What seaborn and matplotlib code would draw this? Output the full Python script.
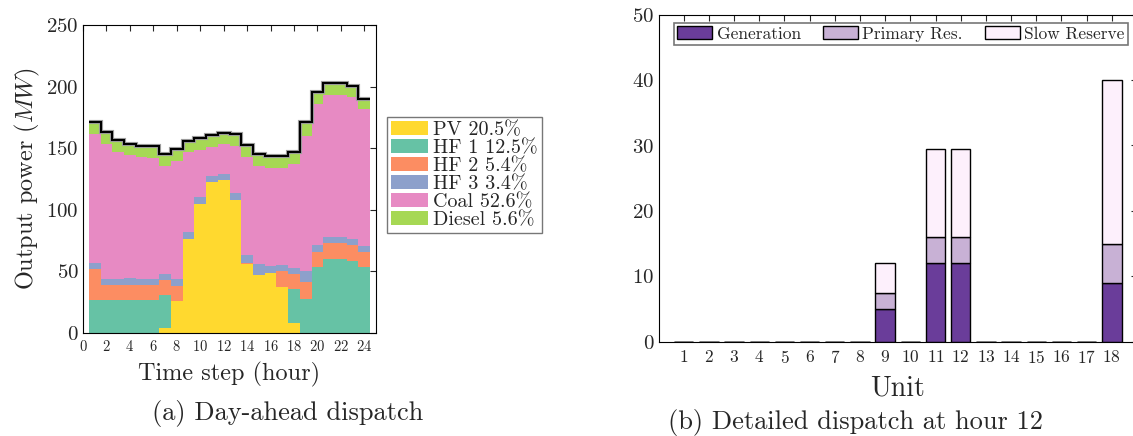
import matplotlib
matplotlib.use('Agg')
import matplotlib.pyplot as plt
from matplotlib.patches import Patch
import seaborn as sns
import pandas as pd
import numpy as np

# ---- (a) day-ahead dispatch, MW per hour ----
hours = [1, 2, 3, 4, 5, 6, 7, 8, 9, 10, 11, 12, 13, 14, 15, 16, 17, 18, 19, 20, 21, 22, 23, 24]
pv = [0, 0, 0, 0, 0, 0, 4, 26, 76.3, 104.7, 122.4, 124.2, 108, 56, 47, 48.7, 37.3, 8.1, 0, 0, 0, 0, 0, 0]
hf1 = [26.8, 26.8, 26.8, 26.8, 26.8, 26.8, 26.8, 0, 0, 0, 0, 0, 0, 0, 0, 0, 0, 27.6, 27.6, 53.6, 60.1, 60.1, 58.4, 53.6]
hf2 = [25.1, 12.2, 12.2, 12.2, 12.2, 12.2, 12.2, 12.4, 0, 0, 0, 0, 0, 0.5, 0, 0, 13, 12.2, 13.8, 12.1, 12.9, 12.9, 13, 12.1]
hf3 = [4.6, 4.8, 4.8, 5.6, 4.8, 4.8, 4.9, 5.4, 5.7, 5.7, 5, 4.8, 5.6, 6.5, 9, 5.7, 4.9, 4.9, 8.9, 5.7, 4.9, 4.9, 4.9, 4.9]
coal = [105, 109.6, 103.1, 99.9, 98.8, 98.2, 87.9, 95.8, 65.2, 38.1, 23.8, 24.4, 38.2, 79.5, 79.8, 79.8, 79, 84.4, 109.9, 114.5, 115.3, 115.3, 115, 111]
diesel = [9.5, 9.6, 9.8, 8.9, 9.4, 10, 9.2, 10, 8.8, 10, 9.2, 9.2, 9.7, 10, 9.5, 9.8, 9.5, 9.8, 11.1, 9.7, 9.5, 10, 9.5, 8.6]
sources = ['PV', 'HF 1', 'HF 2', 'HF 3', 'Coal', 'Diesel']
shares = ['20.5%', '12.5%', '5.4%', '3.4%', '52.6%', '5.6%']

# ---- (b) detailed dispatch at hour 12, MW per unit ----
units = [1, 2, 3, 4, 5, 6, 7, 8, 9, 10, 11, 12, 13, 14, 15, 16, 17, 18]
generation = [0, 0, 0, 0, 0, 0, 0, 0, 5, 0, 12, 12, 0, 0, 0, 0, 0, 9]
primary_res = [0, 0, 0, 0, 0, 0, 0, 0, 2.5, 0, 4, 4, 0, 0, 0, 0, 0, 6]
slow_res = [0, 0, 0, 0, 0, 0, 0, 0, 4.5, 0, 13.5, 13.5, 0, 0, 0, 0, 0, 25]
kinds = ['Generation', 'Primary Res.', 'Slow Reserve']

sns.set_theme(style='white')
plt.rcParams['font.family'] = ['cmr10', 'DejaVu Serif']
plt.rcParams['mathtext.fontset'] = 'cm'
plt.rcParams['axes.formatter.use_mathtext'] = True
plt.rcParams['axes.unicode_minus'] = False

set2 = sns.color_palette('Set2')
pal_a = dict(zip(sources, [set2[5], set2[0], set2[1], set2[2], set2[3], set2[4]]))
pal_b = dict(zip(kinds, ['#6a3d9a', '#c8b1d5', '#fdf0fc']))

fig = plt.figure(figsize=(11.33, 4.36), dpi=100)
ax1 = fig.add_axes([83 / 1133, 103 / 436, 293 / 1133, 308 / 436])
ax2 = fig.add_axes([658.5 / 1133, 94.3 / 436, 478.5 / 1133, 327 / 436])

# left: stacked step areas
dispatch = pd.DataFrame(dict(zip(sources, [pv, hf1, hf2, hf3, coal, diesel])))
dispatch['hour'] = hours
long_a = dispatch.melt(id_vars='hour', var_name='source', value_name='power')
sns.histplot(data=long_a, x='hour', weights='power', hue='source',
             hue_order=sources[::-1], palette=pal_a, multiple='stack',
             discrete=True, element='step', alpha=1, linewidth=0,
             legend=False, ax=ax1)
total = dispatch[sources].sum(axis=1).values
edges = np.arange(0.5, 25, 1)
ax1.stairs(total, edges, baseline=None, color='#a0a0a0', lw=3.0)
ax1.stairs(total, edges, baseline=None, color='black', lw=1.5)

ax1.set_xlim(0, 25)
ax1.set_ylim(0, 250)
ax1.set_xticks(range(0, 25, 2))
ax1.set_yticks(range(0, 251, 50))
ax1.tick_params(axis='x', labelsize=10.5, direction='in', top=True, length=4, width=0.8, pad=4)
ax1.tick_params(axis='y', labelsize=15, direction='in', right=True, length=4, width=0.8, pad=3)
ax1.set_xlabel('Time step (hour)', fontsize=17.5, labelpad=6)
ax1.set_ylabel('Output power ($MW$)', fontsize=17.5, labelpad=3)
for s in ax1.spines.values():
    s.set_color('black')
    s.set_linewidth(0.8)

handles_a = [Patch(facecolor=pal_a[s], edgecolor='none') for s in sources]
labels_a = [f'{s} {p}' for s, p in zip(sources, shares)]
leg1 = ax1.legend(handles_a, labels_a, loc='center left',
                  bbox_to_anchor=(387 / 1133, 1 - 175 / 436), bbox_transform=fig.transFigure,
                  fontsize=14.5, frameon=True, fancybox=False, edgecolor='#555555',
                  labelspacing=0.0, handlelength=1.85, handleheight=0.7,
                  handletextpad=0.25, borderpad=0.2, borderaxespad=0)
leg1.get_frame().set_linewidth(1.0)

# right: stacked bars per unit
reserve = pd.DataFrame(dict(zip(kinds, [generation, primary_res, slow_res])))
reserve['unit'] = units
long_b = reserve.melt(id_vars='unit', var_name='kind', value_name='mw')
sns.histplot(data=long_b, x='unit', weights='mw', hue='kind',
             hue_order=kinds[::-1], palette=pal_b, multiple='stack',
             discrete=True, shrink=0.77, alpha=1, edgecolor='black',
             linewidth=1.0, legend=False, ax=ax2)
ax2.set_xlim(0, 19)
ax2.set_ylim(0, 50)
ax2.set_xticks(units)
ax2.set_yticks(range(0, 51, 10))
ax2.tick_params(axis='x', labelsize=12.5, direction='in', top=True, length=4, width=0.8, pad=5)
ax2.tick_params(axis='y', labelsize=15, direction='in', right=True, length=4, width=0.8, pad=3)
ax2.set_xlabel('Unit', fontsize=20, labelpad=7)
ax2.set_ylabel('')
for s in ax2.spines.values():
    s.set_color('black')
    s.set_linewidth(0.8)

handles_b = [Patch(facecolor=pal_b[k], edgecolor='black', linewidth=1.0) for k in kinds]
leg2 = ax2.legend(handles_b, kinds, loc='upper left', ncol=3,
                  bbox_to_anchor=(674 / 1133, 1 - 22.7 / 436), bbox_transform=fig.transFigure,
                  fontsize=12.5, frameon=True, fancybox=False, edgecolor='#555555',
                  handlelength=2.0, handleheight=0.8, handletextpad=0.25,
                  columnspacing=1.3, borderpad=0.2, borderaxespad=0)
leg2.get_frame().set_linewidth(1.2)

fig.text(152 / 1133, 1 - 413 / 436, '(a) Day-ahead dispatch', ha='left', va='center', fontsize=19)
fig.text(668 / 1133, 1 - 422 / 436, '(b) Detailed dispatch at hour 12', ha='left', va='center', fontsize=19)

fig.savefig('out.png', dpi=100)
